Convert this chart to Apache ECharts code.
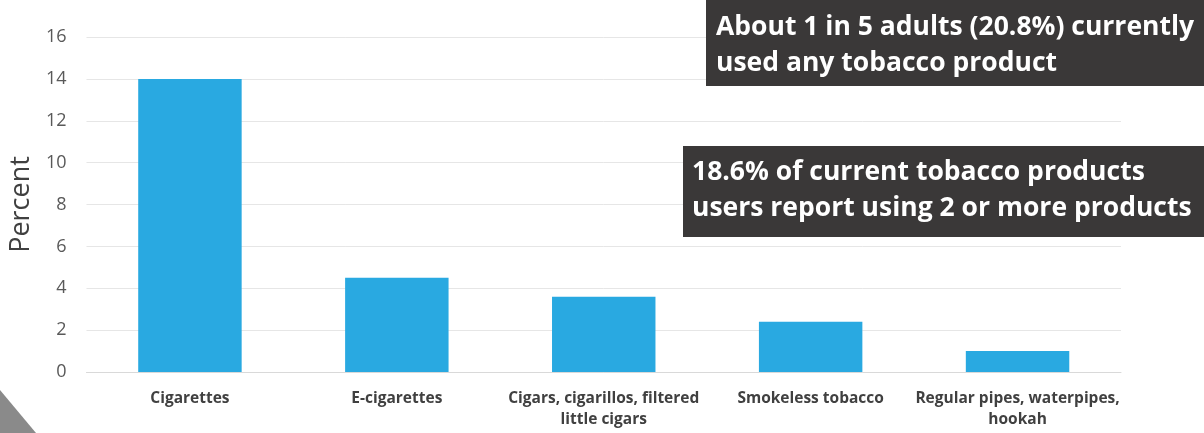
<!DOCTYPE html>
<html><head><meta charset="utf-8">
<script src="https://cdn.jsdelivr.net/npm/echarts@6/dist/echarts.min.js"></script>
<style>html,body{margin:0;padding:0;background:#fff}#c{width:1204px;height:433px}</style>
</head><body><div id="c"></div>
<script>
const categories = ['Cigarettes', 'E-cigarettes', 'Cigars, cigarillos, filtered\nlittle cigars', 'Smokeless tobacco', 'Regular pipes, waterpipes,\nhookah'];
const values = [14.0, 4.5, 3.6, 2.4, 1.0];
const yTicks = [0, 2, 4, 6, 8, 10, 12, 14, 16];
const yTitle = 'Percent';
const note1 = 'About 1 in 5 adults (20.8%) currently\nused any tobacco product';
const note2 = '18.6% of current tobacco products\nusers report using 2 or more products';

const chart = echarts.init(document.getElementById('c'), null, {renderer: 'canvas'});
const font = '"Open Sans", sans-serif';
chart.setOption({
  animation: false,
  grid: {left: 86, right: 83, top: 37, bottom: 61, containLabel: false},
  xAxis: {
    type: 'category', data: categories,
    axisLine: {show: true, lineStyle: {color: '#d9d9d9', width: 1}},
    axisTick: {show: false},
    axisLabel: {color: '#404040', fontSize: 15.5, fontWeight: 'bold', fontFamily: font, margin: 16, lineHeight: 21, interval: 0}
  },
  yAxis: {
    type: 'value', min: yTicks[0], max: yTicks[yTicks.length - 1], interval: 2,
    name: yTitle, nameLocation: 'middle', nameGap: 48,
    nameTextStyle: {fontSize: 27, color: '#404040', fontFamily: font},
    axisLine: {show: false}, axisTick: {show: false},
    axisLabel: {color: '#595959', fontSize: 18, fontFamily: font, margin: 20},
    splitLine: {lineStyle: {color: '#e6e6e6', width: 1}}
  },
  series: [{
    type: 'bar', data: values, barWidth: '50%',
    itemStyle: {color: '#29a9e1'}
  }],
  graphic: [
    {type: 'polygon', z: 100, shape: {points: [[0, 390], [0, 433], [36, 433]]}, style: {fill: '#8a8a8a'}},
    {type: 'rect', z: 100, shape: {x: 706, y: 0, width: 498, height: 86}, style: {fill: '#3a3838'}},
    {type: 'text', z: 101, left: 716, top: 9, style: {text: note1, fill: '#ffffff', font: 'bold 26.5px ' + font, lineHeight: 36}},
    {type: 'rect', z: 100, shape: {x: 683, y: 146, width: 521, height: 91}, style: {fill: '#3a3838'}},
    {type: 'text', z: 101, left: 692, top: 154, style: {text: note2, fill: '#ffffff', font: 'bold 26.5px ' + font, lineHeight: 36}}
  ]
});
</script></body></html>
